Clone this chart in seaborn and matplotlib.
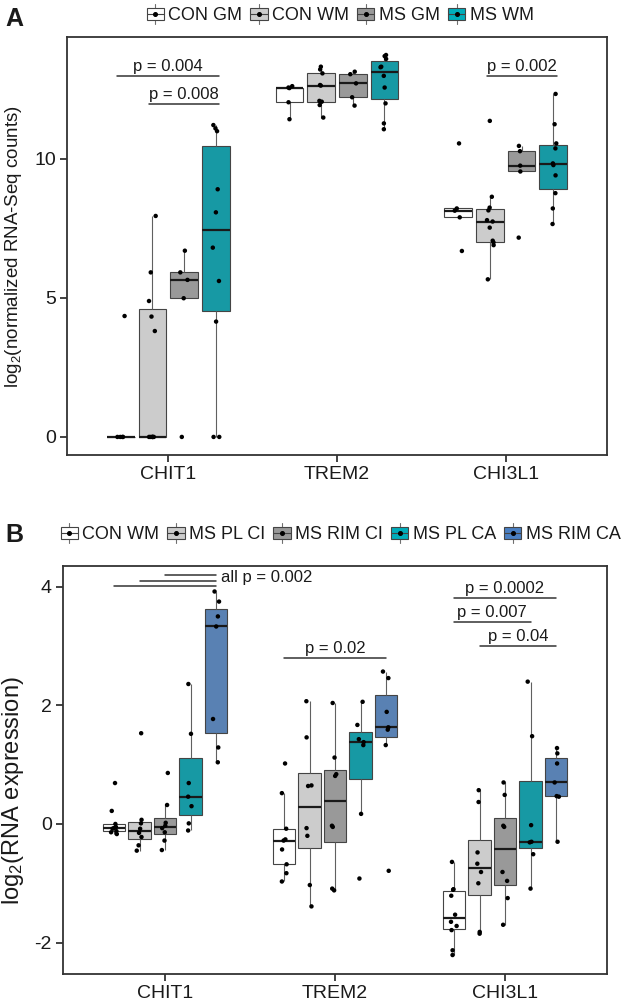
import numpy as np
import pandas as pd
import seaborn as sns
import matplotlib
matplotlib.use('Agg')
import matplotlib.pyplot as plt
from matplotlib.patches import Patch, Rectangle
from matplotlib.lines import Line2D
from matplotlib.legend_handler import HandlerBase

# ---------------- data ----------------
genes = ['CHIT1', 'TREM2', 'CHI3L1']

# panel A : log2(normalized RNA-Seq counts)
groups_A = ['CON GM', 'CON WM', 'MS GM', 'MS WM']
colors_A = ['#ffffff', '#cccccc', '#999999', '#00adbb']

chit1_A = {'CON GM': [0, 0, 0, 0, 4.35],
           'CON WM': [0, 0, 0, 0, 0, 0, 3.81, 4.33, 4.89, 5.92, 7.95],
           'MS GM': [0, 4.99, 5.65, 5.92, 6.70],
           'MS WM': [0, 0, 4.15, 5.61, 6.81, 8.08, 8.91, 11.0, 11.1, 11.22]}
trem2_A = {'CON GM': [11.43, 12.04, 12.55, 12.57, 12.62],
           'CON WM': [11.49, 11.94, 12.06, 12.09, 12.64, 12.66, 13.08, 13.22, 13.32],
           'MS GM': [11.92, 12.22, 12.72, 13.05, 13.14],
           'MS WM': [11.07, 11.28, 12.0, 12.57, 12.99, 13.30, 13.32, 13.6, 13.70, 13.74]}
chi3l1_A = {'CON GM': [6.69, 7.90, 8.14, 8.22, 10.56],
            'CON WM': [5.67, 6.90, 7.00, 7.06, 7.53, 7.75, 7.80, 8.15, 8.25, 8.64, 11.37],
            'MS GM': [7.17, 9.55, 9.76, 10.28, 10.47],
            'MS WM': [7.66, 8.22, 8.77, 9.41, 9.78, 9.84, 10.38, 10.56, 11.25, 12.34]}

# panel B : log2(RNA expression)
groups_B = ['CON WM', 'MS PL CI', 'MS RIM CI', 'MS PL CA', 'MS RIM CA']
colors_B = ['#ffffff', '#cccccc', '#999999', '#00adbb', '#4a7fc2']

chit1_B = {'CON WM': [-0.17, -0.14, -0.12, -0.08, -0.07, -0.05, 0.0, 0.22, 0.69],
           'MS PL CI': [-0.45, -0.36, -0.22, -0.15, -0.08, 0.01, 0.07, 1.53],
           'MS RIM CI': [-0.44, -0.28, -0.14, -0.07, -0.03, 0.02, 0.32, 0.86],
           'MS PL CA': [-0.11, 0.01, 0.30, 0.46, 0.69, 1.52, 2.36],
           'MS RIM CA': [1.04, 1.29, 1.77, 3.33, 3.50, 3.75, 3.92]}
trem2_B = {'CON WM': [-0.97, -0.83, -0.68, -0.43, -0.28, -0.26, -0.08, 0.52, 1.02],
           'MS PL CI': [-1.39, -1.03, -0.20, -0.07, 0.64, 0.65, 1.46, 2.07],
           'MS RIM CI': [-1.12, -1.09, -0.05, -0.03, 0.81, 0.84, 1.12, 2.04],
           'MS PL CA': [-0.92, 0.17, 1.33, 1.38, 1.43, 1.67, 2.06],
           'MS RIM CA': [-0.79, 1.33, 1.59, 1.63, 1.89, 2.46, 2.57]}
chi3l1_B = {'CON WM': [-2.21, -2.13, -1.79, -1.72, -1.65, -1.53, -1.21, -1.11, -1.10, -0.64],
            'MS PL CI': [-1.85, -1.82, -1.0, -0.81, -0.67, -0.48, 0.37, 0.57],
            'MS RIM CI': [-1.70, -1.25, -0.96, -0.81, -0.05, -0.03, 0.49, 0.70],
            'MS PL CA': [-1.09, -0.51, -0.31, -0.30, -0.02, 1.48, 2.40],
            'MS RIM CA': [-0.30, 0.46, 0.47, 0.70, 1.02, 1.19, 1.28]}

# significance bars: (gene index, group from, group to, y, label)
brackets_A = [(0, 0, 3, 12.99, 'p = 0.004'),
              (0, 1, 3, 11.98, 'p = 0.008'),
              (2, 1, 3, 12.99, 'p = 0.002')]
brackets_B = [(1, 0, 4, 2.80, 'p = 0.02'),
              (2, 0, 4, 3.81, 'p = 0.0002'),
              (2, 0, 3, 3.41, 'p = 0.007'),
              (2, 1, 4, 3.00, 'p = 0.04')]
all_lines_B = [(0, 2, 4, 4.20), (0, 1, 4, 4.10), (0, 0, 4, 4.01)]

# ---------------- style ----------------
sns.set_style('ticks')
plt.rcParams['font.family'] = ['Liberation Sans', 'DejaVu Sans']
plt.rcParams['mathtext.fontset'] = 'custom'
plt.rcParams['mathtext.rm'] = 'Liberation Sans'
plt.rcParams['mathtext.it'] = 'Liberation Sans:italic'
TXT = '#1a1a1a'
EDGE = '#333333'


def to_long(gene_dicts):
    rows = []
    for gene, d in zip(genes, gene_dicts):
        for grp, vals in d.items():
            for v in vals:
                rows.append((gene, grp, v))
    return pd.DataFrame(rows, columns=['gene', 'group', 'value'])


class BoxKey(HandlerBase):
    # ggplot-like legend key: whisker, box, median and a dot
    def create_artists(self, legend, orig_handle, xdescent, ydescent,
                       width, height, fontsize, trans):
        fc = orig_handle.get_facecolor()
        x0, y0 = -xdescent, -ydescent
        cx, cy = x0 + width / 2, y0 + height / 2
        whisk = Line2D([cx, cx], [y0, y0 + height], color='#707070', lw=0.8, transform=trans)
        rect = Rectangle((x0, y0 + 0.19 * height), width, 0.62 * height, facecolor=fc,
                         edgecolor='#444444', lw=0.8, transform=trans)
        med = Line2D([x0, x0 + width], [cy, cy], color='#444444', lw=0.8, transform=trans)
        dot = Line2D([cx], [cy], marker='o', ms=2.6, color='black', lw=0, transform=trans)
        return [whisk, rect, med, dot]


def draw_panel(ax, df, groups, colors, ylim, yticks, ylabel, label_pos, label_size):
    n = len(groups)
    sns.boxplot(data=df, x='gene', y='value', hue='group', order=genes, hue_order=groups,
                palette=colors, width=0.75, gap=0.12, showfliers=False, showcaps=False,
                linecolor='#444444', linewidth=0.8,
                whiskerprops={'color': '#606060'},
                medianprops={'color': '#1a1a1a', 'linewidth': 1.6},
                legend=False, ax=ax)
    n_before = len(ax.collections)
    sns.stripplot(data=df, x='gene', y='value', hue='group', order=genes, hue_order=groups,
                  palette=['black'] * n, dodge=True, jitter=0.1, size=3.2, linewidth=0,
                  legend=False, ax=ax, zorder=4)
    # stripplot dodges over 0.8, the boxes over 0.75 -> pull points onto the boxes
    for coll in ax.collections[n_before:]:
        off = np.asarray(coll.get_offsets()).copy()
        if len(off) == 0:
            continue
        c = np.round(off[:, 0])
        off[:, 0] = c + (off[:, 0] - c) * 0.75 / 0.8
        coll.set_offsets(off)

    ax.set_xlim(-0.6, 2.6)
    ax.set_ylim(*ylim)
    ax.set_yticks(yticks)
    ax.set_yticklabels([str(t) for t in yticks])
    ax.set_xlabel('')
    ax.set_ylabel(ylabel, fontsize=label_size, color=TXT)
    ax.yaxis.set_label_coords(*label_pos)
    for sp in ax.spines.values():
        sp.set_visible(True)
        sp.set_color(EDGE)
        sp.set_linewidth(1.3)
    ax.tick_params(direction='out', length=5, width=1.3, color=EDGE,
                   labelsize=14, labelcolor=TXT, pad=3)


def slot(gene, g, n):
    return gene + (g - (n - 1) / 2) * 0.75 / n


def draw_brackets(ax, brackets, n, pad):
    for gene, g1, g2, y, lab in brackets:
        x1 = slot(gene, g1, n) - pad
        x2 = slot(gene, g2, n) + pad
        ax.plot([x1, x2], [y, y], color=EDGE, lw=1.1)
        ax.annotate(lab, ((x1 + x2) / 2, y), xytext=(0, 1.5), textcoords='offset points',
                    ha='center', va='bottom', fontsize=12, color=TXT)


def add_legend(fig, groups, colors, cx, cy):
    handles = [Patch(facecolor=c) for c in colors]
    fig.legend(handles, groups, loc='center', bbox_to_anchor=(cx, cy), ncol=len(groups),
               frameon=False, fontsize=13, handlelength=0.95, handleheight=1.33,
               handletextpad=0.25, columnspacing=0.45, borderpad=0, borderaxespad=0,
               handler_map={Patch: BoxKey()}, labelcolor=TXT)


# ---------------- figure ----------------
W, H = 624, 1005
fig = plt.figure(figsize=(W / 100, H / 100), dpi=100)
axA = fig.add_axes([67 / W, 1 - 455 / H, (607 - 67) / W, (455 - 37.5) / H])
axB = fig.add_axes([63 / W, 1 - 974 / H, (607 - 63) / W, (974 - 566) / H])

np.random.seed(7)
dfA = to_long([chit1_A, trem2_A, chi3l1_A])
draw_panel(axA, dfA, groups_A, colors_A, (-0.65, 14.37), [0, 5, 10],
           r'log$_2$(normalized RNA-Seq counts)', (-0.080, 0.5), 13.5)
draw_brackets(axA, brackets_A, len(groups_A), 0.02)

dfB = to_long([chit1_B, trem2_B, chi3l1_B])
draw_panel(axB, dfB, groups_B, colors_B, (-2.53, 4.35), [-2, 0, 2, 4],
           r'log$_2$(RNA expression)', (-0.068, 0.45), 17)
draw_brackets(axB, brackets_B, len(groups_B), 0.0)
for gene, g1, g2, y in all_lines_B:
    axB.plot([slot(gene, g1, 5), slot(gene, g2, 5)], [y, y], color=EDGE, lw=1.1)
axB.text(slot(0, 4, 5) + 0.03, 4.15, 'all p = 0.002', ha='left', va='center',
         fontsize=12, color=TXT)

add_legend(fig, groups_A, colors_A, 0.545, 1 - 14 / H)
add_legend(fig, groups_B, colors_B, 0.546, 1 - 533 / H)

fig.text(5 / W, 1 - 26 / H, 'A', fontsize=18, fontweight='bold', va='baseline', color=TXT)
fig.text(5 / W, 1 - 542 / H, 'B', fontsize=18, fontweight='bold', va='baseline', color=TXT)

fig.savefig('out.png', dpi=100)
